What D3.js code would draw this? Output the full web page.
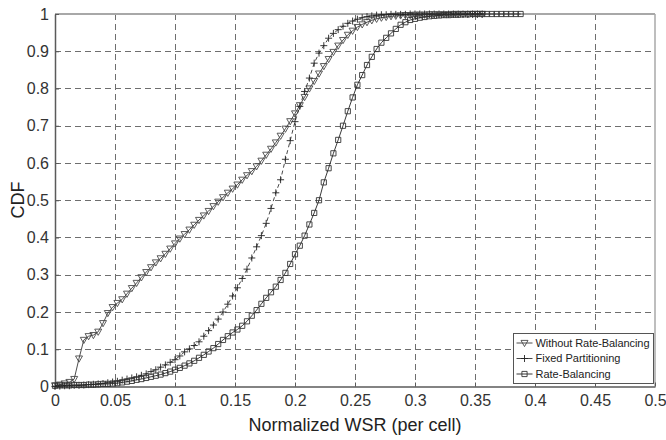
<!DOCTYPE html>
<html><head><meta charset="utf-8">
<script src="https://cdn.jsdelivr.net/npm/d3@7"></script>
<style>
html,body{margin:0;padding:0;background:#fff;}
svg{display:block;font-family:"Liberation Sans",Arial,Helvetica,sans-serif;}
</style></head>
<body>
<svg id="chart" width="666" height="440"></svg>
<script>
const xTicks = [0,0.05,0.1,0.15,0.2,0.25,0.3,0.35,0.4,0.45,0.5];
const yTicks = [0,0.1,0.2,0.3,0.4,0.5,0.6,0.7,0.8,0.9,1];
const seriesNames = ["Without Rate-Balancing","Fixed Partitioning","Rate-Balancing"];
const xs = [0,0.004,0.008,0.012,0.016,0.02,0.024,0.028,0.032,0.036,
0.04,0.044,0.048,0.052,0.056,0.06,0.064,0.068,0.072,0.076,
0.08,0.084,0.088,0.092,0.096,0.1,0.104,0.108,0.112,0.116,
0.12,0.124,0.128,0.132,0.136,0.14,0.144,0.148,0.152,0.156,
0.16,0.164,0.168,0.172,0.176,0.18,0.184,0.188,0.192,0.196,
0.2,0.204,0.208,0.212,0.216,0.22,0.224,0.228,0.232,0.236,
0.24,0.244,0.248,0.252,0.256,0.26,0.264,0.268,0.272,0.276,
0.28,0.284,0.288,0.292,0.296,0.3,0.304,0.308,0.312,0.316,
0.32,0.324,0.328,0.332,0.336,0.34,0.344,0.348,0.352,0.356,
0.36,0.364,0.368,0.372,0.376,0.38,0.384,0.388];
const withoutRB = [0.003,0.005,0.008,0.012,0.02,0.075,0.125,0.135,0.138,0.147,
0.17,0.197,0.213,0.224,0.234,0.249,0.264,0.278,0.293,0.307,
0.32,0.333,0.344,0.356,0.37,0.384,0.397,0.409,0.421,0.434,
0.447,0.459,0.471,0.484,0.496,0.508,0.52,0.531,0.542,0.555,
0.567,0.578,0.591,0.606,0.622,0.638,0.655,0.673,0.692,0.712,
0.733,0.755,0.777,0.8,0.82,0.84,0.86,0.879,0.898,0.915,
0.93,0.944,0.955,0.965,0.972,0.978,0.983,0.987,0.99,0.992,
0.994,0.995,0.996,0.997,0.997,0.998,0.998,0.998,0.999,0.999,
0.999,0.999,0.999,1,1,1,1,1,1,1];
const fixedPart = [0,0.001,0.002,0.002,0.003,0.003,0.004,0.005,0.006,0.007,
0.008,0.01,0.012,0.014,0.017,0.02,0.023,0.026,0.03,0.034,
0.04,0.045,0.052,0.058,0.065,0.072,0.082,0.093,0.101,0.11,
0.12,0.135,0.15,0.165,0.181,0.2,0.221,0.243,0.265,0.29,
0.315,0.345,0.375,0.405,0.438,0.478,0.52,0.555,0.61,0.66,
0.711,0.752,0.792,0.828,0.868,0.895,0.915,0.935,0.948,0.958,
0.967,0.975,0.981,0.986,0.99,0.993,0.995,0.997,0.998,0.998,
0.999,0.999,0.999,0.999,1,1,1,1,1,1,
1,1,1,1,1,1,1,1,1,1];
const rateBal = [0.002,0.003,0.003,0.003,0.004,0.004,0.004,0.005,0.005,0.006,
0.007,0.007,0.008,0.009,0.011,0.013,0.015,0.018,0.02,0.023,
0.026,0.029,0.032,0.036,0.04,0.045,0.05,0.056,0.062,0.069,
0.077,0.085,0.094,0.103,0.114,0.125,0.135,0.145,0.153,0.163,
0.175,0.19,0.205,0.222,0.238,0.253,0.268,0.286,0.305,0.329,
0.355,0.378,0.405,0.435,0.466,0.5,0.548,0.586,0.626,0.662,
0.7,0.739,0.776,0.81,0.836,0.863,0.885,0.906,0.923,0.936,
0.948,0.96,0.971,0.978,0.984,0.987,0.99,0.992,0.994,0.995,
0.996,0.997,0.997,0.998,0.998,0.999,0.999,1,1,1,
1,1,1,1,1,1,1,1];

const svg = d3.select("#chart");
const L = 55, R = 655, T = 14, B = 386.5;
const x = d3.scaleLinear().domain([0,0.5]).range([L,R]);
const y = d3.scaleLinear().domain([0,1]).range([B,T]);
const fmt = d => String(+d.toFixed(2));

// grid
const grid = svg.append("g").attr("stroke","#6e6e6e").attr("stroke-width",1).attr("stroke-dasharray","6,4");
grid.selectAll("line.v").data(xTicks.slice(1,-1)).join("line")
  .attr("x1",d=>Math.round(x(d))+0.5).attr("x2",d=>Math.round(x(d))+0.5).attr("y1",T).attr("y2",B);
grid.selectAll("line.h").data(yTicks.slice(1,-1)).join("line")
  .attr("y1",d=>Math.round(y(d))+0.5).attr("y2",d=>Math.round(y(d))+0.5).attr("x1",L).attr("x2",R);

// frame top/right
svg.append("line").attr("x1",L).attr("x2",R).attr("y1",T).attr("y2",T).attr("stroke","#a8a8a8").attr("stroke-width",2);
svg.append("line").attr("x1",R).attr("x2",R).attr("y1",T).attr("y2",B).attr("stroke","#a8a8a8").attr("stroke-width",1.5);

// axes
const xAxis = svg.append("g").attr("transform",`translate(0,${B})`)
  .call(d3.axisBottom(x).tickValues(xTicks).tickFormat(fmt).tickSizeInner(-4).tickSizeOuter(0).tickPadding(8));
const yAxis = svg.append("g").attr("transform",`translate(${L},0)`)
  .call(d3.axisLeft(y).tickValues(yTicks).tickFormat(fmt).tickSizeInner(-4).tickSizeOuter(0).tickPadding(6));
[xAxis,yAxis].forEach(g=>{
  g.select(".domain").attr("stroke","#5a5a5a").attr("stroke-width",1.5);
  g.selectAll(".tick line").attr("stroke","#5a5a5a");
  g.selectAll(".tick text").attr("font-size",16).attr("fill","#333")
   .attr("font-family","'Liberation Sans',Arial,sans-serif");
});

// axis labels
svg.append("text").attr("x",355).attr("y",431).attr("text-anchor","middle")
  .attr("font-size",18).attr("fill","#222").text("Normalized WSR (per cell)");
svg.append("text").attr("transform","translate(24,200) rotate(-90)").attr("text-anchor","middle")
  .attr("font-size",18).attr("fill","#222").text("CDF");

// markers
const triDown = "M-3.5,-2.6L3.5,-2.6L0,3.6Z";
const plus = "M-3.5,0L3.5,0M0,-3.5L0,3.5";
const square = "M-2.6,-2.6L2.6,-2.6L2.6,2.6L-2.6,2.6Z";
const series = [
  {name:seriesNames[0], vals:withoutRB, marker:triDown, dash:null, stroke:"#3a3a3a", mstroke:"#4a4a4a"},
  {name:seriesNames[1], vals:fixedPart, marker:plus, dash:"4,3", stroke:"#333", mstroke:"#222"},
  {name:seriesNames[2], vals:rateBal, marker:square, dash:null, stroke:"#222", mstroke:"#333"}
];
const line = d3.line().x(d=>x(d[0])).y(d=>y(d[1]));
series.forEach(s=>{
  const pts = s.vals.map((v,i)=>[xs[i],v]);
  const g = svg.append("g");
  g.append("path").attr("d",line(pts)).attr("fill","none").attr("stroke",s.stroke)
    .attr("stroke-width",0.9).attr("stroke-dasharray",s.dash);
  g.selectAll("path.m").data(pts).join("path").attr("class","m")
    .attr("transform",d=>`translate(${x(d[0])},${y(d[1])})`)
    .attr("d",s.marker).attr("fill","none").attr("stroke",s.mstroke).attr("stroke-width",0.9);
});

// legend
const lg = svg.append("g").attr("transform","translate(513.5,333.5)");
lg.append("rect").attr("width",140).attr("height",50).attr("fill","#fff").attr("stroke","#555").attr("stroke-width",1);
series.forEach((s,i)=>{
  const yy = 9.5 + i*15.5;
  lg.append("line").attr("x1",3).attr("x2",19).attr("y1",yy).attr("y2",yy)
    .attr("stroke",s.stroke).attr("stroke-width",0.9);
  lg.append("path").attr("transform",`translate(11,${yy})`).attr("d",s.marker)
    .attr("fill","none").attr("stroke",s.mstroke).attr("stroke-width",0.9);
  lg.append("text").attr("x",22).attr("y",yy).attr("dy","0.35em").attr("font-size",11)
    .attr("textLength", i===0 ? 114 : null)
    .attr("fill","#222").text(s.name);
});
</script>
</body></html>
